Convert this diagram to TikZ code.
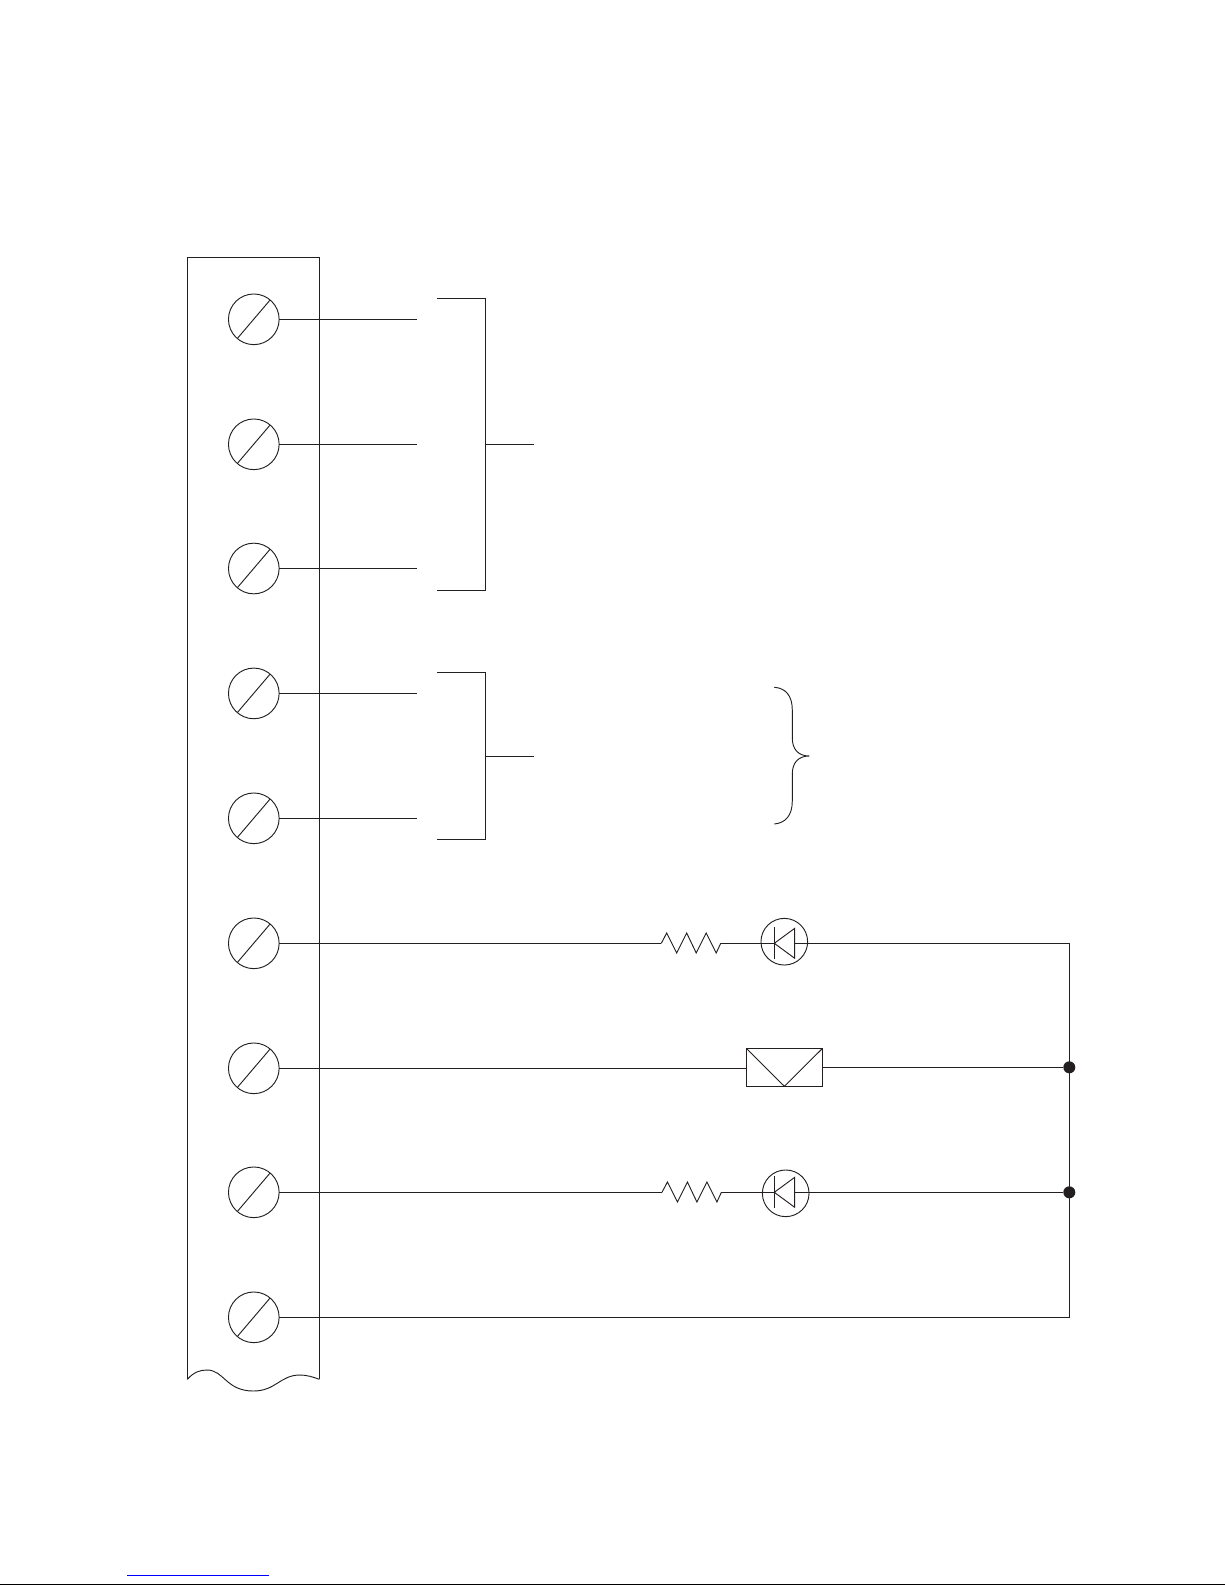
\documentclass[tikz,border=0pt]{standalone}
\usepackage{tikz}
\usetikzlibrary{calc}
\definecolor{wireblack}{HTML}{231F20}
\tikzset{
  wire/.style={draw=wireblack,line width=0.95pt},
  thinwire/.style={draw=wireblack,line width=0.7pt},
  screw/.style={circle,thinwire,minimum size=38pt,inner sep=0pt,outer sep=0pt},
  ledring/.style={circle,thinwire,minimum size=35pt,inner sep=0pt,outer sep=0pt},
  junction/.style={circle,fill=wireblack,minimum size=9pt,inner sep=0pt,outer sep=0pt},
  zigzag/.style={thinwire,line join=miter}
}
\begin{document}
\begin{tikzpicture}[x=0.75pt,y=-0.75pt]
\useasboundingbox (0,0) rectangle (1225,1585);
% terminal strip
\draw[wire] (187.3,1379.3) -- (187.3,257.3) -- (319.3,257.3) -- (319.3,1379.3);
\draw[thinwire] (187.3,1379.3) .. controls (194,1372) and (200,1370) .. (207,1370)
  .. controls (224,1370) and (226,1391) .. (253.3,1391)
  .. controls (276,1391) and (280,1375) .. (300,1375)
  .. controls (307,1375) and (313,1377) .. (319.3,1379.3);
% screws
\foreach \i/\y in {1/319.3,2/444.3,3/568.5,4/693.4,5/818.3,6/943.3,7/1068.3,8/1192.3,9/1317.3}{
  \node[screw] (t\i) at (253.8,\y) {};
  \draw[thinwire] (t\i.center) ++(16.3,-19.3) -- ++(-32.7,38.4);
}
% wire ends at the brackets
\foreach \i/\y in {1/319.3,2/444.3,3/568.5,4/693.4,5/818.3}{
  \coordinate (w\i) at (417,\y);
  \draw[wire] (t\i.east) -- (w\i);
}
% upper bracket
\coordinate (ba) at (437,298.3);
\coordinate (bb) at (485.3,298.3);
\coordinate (bc) at (485.3,590.3);
\coordinate (bd) at (437,590.3);
\coordinate (be) at (485.3,444.3);
\coordinate (bf) at (534,444.3);
\draw[wire] (ba) -- (bb) -- (bc) -- (bd);
\draw[wire] (be) -- (bf);
% lower bracket
\coordinate (ca) at (437,672.3);
\coordinate (cb) at (485.3,672.3);
\coordinate (cc) at (485.3,839.3);
\coordinate (cd) at (437,839.3);
\coordinate (ce) at (485.3,756.3);
\coordinate (cf) at (534.3,756.3);
\draw[wire] (ca) -- (cb) -- (cc) -- (cd);
\draw[wire] (ce) -- (cf);
% brace
\draw[thinwire] (774.3,687.3) .. controls (785,688) and (792.3,695) .. (792.3,710)
  -- (792.3,738) .. controls (792.3,749) and (798,756) .. (809.3,756)
  .. controls (798,756) and (792.3,763) .. (792.3,774)
  -- (792.3,801) .. controls (792.3,816) and (785,823) .. (774.3,824);
% right rail
\coordinate (ra) at (1069.3,943.3);
\coordinate (rb) at (1069.3,1317.3);
\node[junction] (j1) at (1069.3,1067.3) {};
\node[junction] (j2) at (1069.3,1192.3) {};
% resistors and LEDs
\foreach \i/\t/\y/\cx/\cy/\rx/\re in {1/6/943.3/784.3/941.7/661.3/720.7,2/8/1192.3/785.7/1193.3/662/721.4}{
  \node[ledring] (led\i) at (\cx,\cy) {};
  \coordinate (ka\i) at (774.3,\y);
  \coordinate (an\i) at (794.7,\y);
  \coordinate (res\i) at (\rx,\y);
  \coordinate (rese\i) at (\re,\y);
  \draw[wire] (t\t.east) -- (res\i);
  \draw[zigzag] (res\i) -- ++(5.4,-10.3) -- ++(10,20) -- ++(10,-20) -- ++(9.5,20)
    -- ++(10,-20) -- ++(10,20) -- (rese\i);
  \draw[wire] (rese\i) -- (ka\i);
  \draw[thinwire] (ka\i) ++(0,-16) -- ++(0,32);
  \draw[thinwire] ($(an\i)+(0,-15)$) -- (ka\i) -- ($(an\i)+(0,15)$) -- cycle;
}
\draw[wire] (an1) -- (ra) -- (rb) -- (t9.east);
\draw[wire] (an2) -- (j2);
% coupler box
\node[wire,minimum width=57.2pt,minimum height=28.5pt,inner sep=0pt,outer sep=0pt] (opto) at (784.4,1067.3) {};
\draw[thinwire] (opto.north west) -- (opto.south) -- (opto.north east);
\draw[wire] (t7.east) -- (opto.west |- t7.east);
\draw[wire] (opto.east) -- (j1);
% page edge
\draw[blue,line width=0.75pt] (127,1575.3) -- (269,1575.3);
\draw[black,line width=0.75pt] (0,1584.5) -- (1225,1584.5);
\end{tikzpicture}
\end{document}
